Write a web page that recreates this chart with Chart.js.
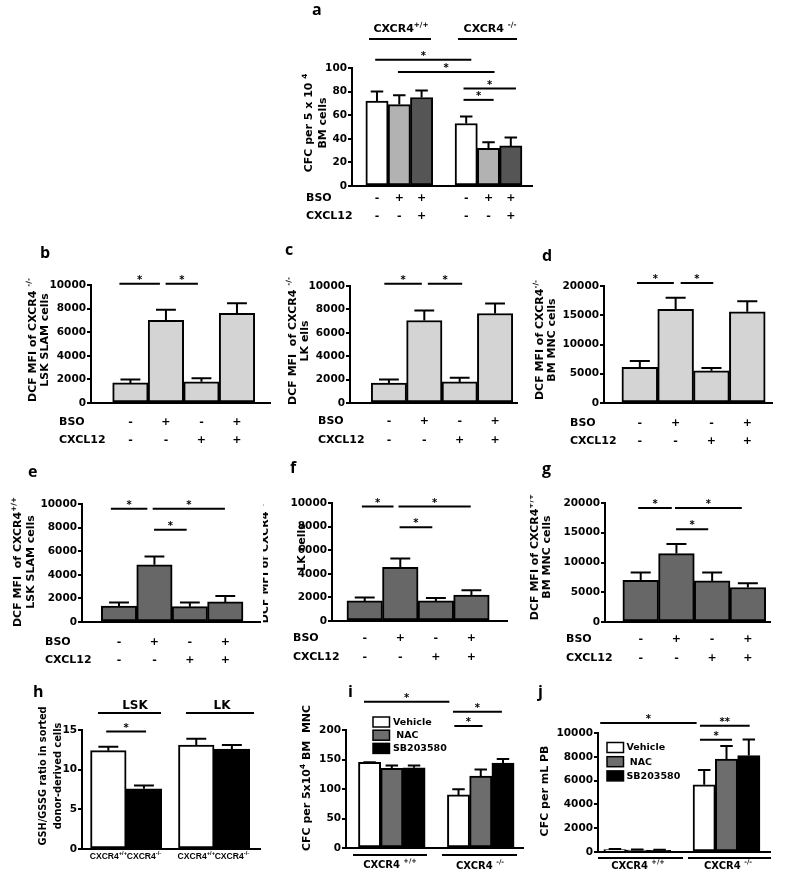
<!DOCTYPE html>
<html>
<head>
<meta charset="utf-8">
<script src="https://cdn.jsdelivr.net/npm/chart.js@4.4.0/dist/chart.umd.min.js"></script>
<style>
  body { margin: 0; background: #fff; width: 787px; height: 878px; position: relative; overflow: hidden; }
  canvas { position: absolute; }
</style>
</head>
<body>
<script>
// ---- data ----
// a: CFC per 5x10^4 BM cells
const aValues = [72, 69, 75, 53, 32, 34];
const aErrors = [80, 77, 81, 59, 37, 41];
const aBSO = ['-', '+', '+', '-', '+', '+'];
const aCXCL12 = ['-', '-', '+', '-', '-', '+'];
const aTicks = [0, 20, 40, 60, 80, 100];
const aSig = [[0.92, 5.23, 107, '*'], [1.94, 6.27, 96.6, '*'], [4.88, 7.23, 82.6, '*'], [4.88, 6.23, 73, '*']];

// b-g: DCF MFI, four conditions each
const bsoRow = ['-', '+', '-', '+'];
const cxcl12Row = ['-', '-', '+', '+'];
const ticks10k = [0, 2000, 4000, 6000, 8000, 10000];
const ticks20k = [0, 5000, 10000, 15000, 20000];

const bValues = [1700, 7000, 1800, 7600];
const bErrors = [2000, 7900, 2100, 8450];
const bSig = [[0.69, 1.83, 10100, '*'], [1.99, 2.90, 10100, '*']];

const cValues = [1700, 7050, 1800, 7650];
const cErrors = [2000, 7900, 2150, 8500];
const cSig = [[0.87, 1.93, 10200, '*'], [2.10, 3.07, 10200, '*']];

const dValues = [6100, 16000, 5500, 15600];
const dErrors = [7200, 18000, 6000, 17400];
const dSig = [[0.92, 1.95, 20500, '*'], [2.14, 3.05, 20500, '*']];

const eValues = [1350, 4850, 1300, 1700];
const eErrors = [1650, 5550, 1650, 2200];
const eSig = [[0.77, 1.80, 9600, '*'], [1.95, 3.99, 9600, '*'], [1.99, 2.91, 7825, '*']];

const fValues = [1700, 4550, 1700, 2200];
const fErrors = [2000, 5300, 1950, 2600];
const fSig = [[0.92, 1.81, 9700, '*'], [1.95, 3.98, 9700, '*'], [1.98, 2.90, 7950, '*']];

const gValues = [7000, 11500, 6900, 5800];
const gErrors = [8300, 13100, 8300, 6500];
const gSig = [[0.93, 1.87, 19150, '*'], [1.96, 3.83, 19150, '*'], [1.99, 2.89, 15600, '*']];

// h: GSH/GSSG ratio
const hGroups = ['LSK', 'LK'];
const hCategories = ['CXCR4^{+/+}', 'CXCR4^{-/-}', 'CXCR4^{+/+}', 'CXCR4^{-/-}'];
const hValues = [12.4, 7.6, 13.1, 12.6];
const hErrors = [12.9, 8.0, 13.9, 13.1];
const hTicks = [0, 5, 10, 15];
const hSig = [[0.94, 2.06, 14.8, '*']];

// i, j: treatments per genotype
const treatments = ['Vehicle', ' NAC', 'SB203580'];
const genotypes = ['CXCR4 ^{+/+}', 'CXCR4 ^{-/-}'];
const iValues = [145, 135, 136, 90, 122, 144];
const iErrors = [145.5, 140, 140, 99.5, 133, 151];
const iTicks = [0, 50, 100, 150, 200];
const iSig = [[0.75, 4.59, 247.8, '*'], [4.75, 6.95, 231, '*'], [4.81, 6.08, 206.8, '*']];

const jValues = [200, 170, 140, 5650, 7800, 8100];
const jErrors = [250, 220, 180, 6900, 8900, 9450];
const jSig = [[0.34, 4.66, 10845, '*'], [4.81, 7.04, 10617, '**'], [4.81, 6.25, 9434, '*']];

// ---- drawing helpers ----
const FAM = '"DejaVu Sans", sans-serif';
const ARIAL = '"Liberation Sans", Arial, sans-serif';
const fnt = (size, fam) => `bold ${size}px ${fam || FAM}`;

const LIGHT = '#d4d4d4', DARK = '#676767', MID = '#6d6d6d';
const triColors = ['#ffffff', MID, '#000000'];

// bar slots along the linear x axis, groups separated by `gap` empty slots
function slots(groups, gap) {
  const out = [];
  let x = 1;
  groups.forEach(n => {
    for (let k = 0; k < n; k++) out.push(x + k);
    x += n + gap;
  });
  return out;
}

// text with ^{...} superscripts
function drawRich(ctx, str, x, y, size, align, fam) {
  const parts = [];
  const re = /\^\{([^}]*)\}/g;
  let last = 0, m;
  while ((m = re.exec(str))) {
    if (m.index > last) parts.push([str.slice(last, m.index), false]);
    parts.push([m[1], true]);
    last = re.lastIndex;
  }
  if (last < str.length) parts.push([str.slice(last), false]);
  let total = 0;
  parts.forEach(([t, s]) => { ctx.font = fnt(s ? size * 0.66 : size, fam); total += ctx.measureText(t).width; });
  let cx = align === 'center' ? x - total / 2 : x;
  ctx.textAlign = 'left';
  ctx.textBaseline = 'middle';
  parts.forEach(([t, s]) => {
    ctx.font = fnt(s ? size * 0.66 : size, fam);
    ctx.fillText(t, cx, s ? y - size * 0.36 : y);
    cx += ctx.measureText(t).width;
  });
}

function extras(p) {
  const ox = p.box[0], oy = p.box[1];
  return {
    id: 'extras',
    afterDatasetsDraw(chart) {
      const ctx = chart.ctx, ys = chart.scales.y;
      ctx.save();
      ctx.strokeStyle = '#000';
      ctx.lineWidth = 2;
      chart.getDatasetMeta(0).data.forEach((bar, i) => {
        const top = ys.getPixelForValue(p.errors[i]);
        const half = bar.width * 0.28;
        ctx.beginPath();
        ctx.moveTo(bar.x, bar.y);
        ctx.lineTo(bar.x, top);
        ctx.moveTo(bar.x - half, top);
        ctx.lineTo(bar.x + half, top);
        ctx.stroke();
      });
      ctx.restore();
    },
    afterDraw(chart) {
      const ctx = chart.ctx, xs = chart.scales.x, ys = chart.scales.y;
      ctx.save();
      ctx.fillStyle = '#000';
      ctx.strokeStyle = '#000';
      ctx.lineWidth = 2;

      // significance bars
      p.sig.forEach(([x1, x2, yv, mark]) => {
        const X1 = xs.getPixelForValue(x1), X2 = xs.getPixelForValue(x2), Y = ys.getPixelForValue(yv);
        ctx.beginPath(); ctx.moveTo(X1, Y); ctx.lineTo(X2, Y); ctx.stroke();
        ctx.font = fnt(10);
        ctx.textAlign = 'center';
        ctx.textBaseline = 'alphabetic';
        ctx.fillText(mark, (X1 + X2) / 2, Y - 1);
      });

      // BSO / CXCL12 table
      if (p.table) {
        p.table.rows.forEach(([name, signs, y]) => {
          ctx.font = fnt(11);
          ctx.textBaseline = 'middle';
          ctx.textAlign = 'left';
          ctx.fillText(name, p.table.x - ox, y - oy);
          ctx.textAlign = 'center';
          signs.forEach((s, i) => ctx.fillText(s, xs.getPixelForValue(p.pos[i]), y - oy));
        });
      }

      // labels under each bar (panel h)
      if (p.cats) {
        p.cats.labels.forEach((t, i) =>
          drawRich(ctx, t, xs.getPixelForValue(p.pos[i]), p.cats.y - oy, p.cats.size, 'center', ARIAL));
      }

      // group headers / group labels with rules
      (p.heads || []).forEach(h => {
        drawRich(ctx, h.text, h.cx - ox, h.ty - oy, h.size, 'center');
        ctx.lineWidth = 2;
        ctx.beginPath(); ctx.moveTo(h.x1 - ox, h.ly - oy); ctx.lineTo(h.x2 - ox, h.ly - oy); ctx.stroke();
      });

      // legend (panels i, j)
      if (p.legend) {
        const L = p.legend;
        L.labels.forEach((lab, k) => {
          const y = L.y + k * L.dy - oy, x = L.x - ox;
          ctx.fillStyle = L.colors[k];
          ctx.fillRect(x, y, L.w, L.h);
          ctx.lineWidth = 1.5;
          ctx.strokeRect(x, y, L.w, L.h);
          ctx.fillStyle = '#000';
          ctx.font = fnt(9.5);
          ctx.textAlign = 'left';
          ctx.textBaseline = 'middle';
          ctx.fillText(lab, x + L.tx, y + L.h / 2 + 0.5);
        });
      }

      // rotated y-axis title
      const t = p.title;
      t.lines.forEach((line, k) => {
        ctx.save();
        if (t.clip && t.clip[k] != null) {
          ctx.beginPath(); ctx.rect(t.clip[k] - ox, 0, 1000, 1000); ctx.clip();
        }
        const cy = Array.isArray(t.cy) ? t.cy[k] : t.cy;
        ctx.translate(t.xs[k] - ox, cy - oy);
        ctx.rotate(-Math.PI / 2);
        drawRich(ctx, line, 0, 0, t.size || 11, 'center');
        ctx.restore();
      });

      // panel letter
      ctx.font = 'bold 16px "Open Sans", sans-serif';
      ctx.textAlign = 'left';
      ctx.textBaseline = 'alphabetic';
      ctx.fillText(p.letter, p.letterAt[0] - ox, p.letterAt[1] - oy);
      ctx.restore();
    }
  };
}

function makePanel(p) {
  const [bx, by, bw, bh] = p.box;
  const [l, t, r, b] = p.area;
  const cv = document.createElement('canvas');
  cv.width = bw; cv.height = bh;
  cv.style.left = bx + 'px'; cv.style.top = by + 'px';
  cv.style.width = bw + 'px'; cv.style.height = bh + 'px';
  document.body.appendChild(cv);

  new Chart(cv, {
    type: 'bar',
    data: {
      labels: p.pos,
      datasets: [{
        data: p.values,
        backgroundColor: p.colors,
        borderColor: '#000',
        borderWidth: 2,
        borderSkipped: false,
        barPercentage: 1,
        categoryPercentage: 1
      }]
    },
    options: {
      responsive: false,
      animation: false,
      events: [],
      layout: { padding: { left: 0, top: t - by, right: bx + bw - r, bottom: 0 } },
      plugins: { legend: { display: false }, tooltip: { enabled: false } },
      scales: {
        x: {
          type: 'linear',
          offset: false,
          min: p.x[0], max: p.x[1],
          afterBuildTicks: s => { s.ticks = p.pos.map(v => ({ value: v })); },
          ticks: { display: false },
          grid: { display: false, offset: false },
          border: { display: true, color: '#000', width: 2 },
          afterFit: s => { s.height = by + bh - b; }
        },
        y: {
          min: p.yTicks[0], max: p.yTicks[p.yTicks.length - 1],
          afterBuildTicks: s => { s.ticks = p.yTicks.map(v => ({ value: v })); },
          ticks: { color: '#000', padding: 1, font: { family: FAM, size: 10.5, weight: 'bold' }, callback: v => String(v) },
          grid: { display: true, drawOnChartArea: false, drawTicks: true, tickLength: 4, color: '#000', lineWidth: 2 },
          border: { display: true, color: '#000', width: 2 },
          afterFit: s => { s.width = l - bx; }
        }
      }
    },
    plugins: [extras(p)]
  });
}

const aColors = ['#ffffff', '#b2b2b2', '#555555', '#ffffff', '#b2b2b2', '#555555'];
const four = c => [c, c, c, c];
const bsoTable = (x, y1, y2) => ({ x, rows: [['BSO', bsoRow, y1], ['CXCL12', cxcl12Row, y2]] });

const panels = [
  { letter: 'a', letterAt: [312, 15], box: [290, 0, 250, 225], area: [352, 68, 532, 186],
    x: [-0.12, 7.95], pos: slots([3, 3], 1), values: aValues, errors: aErrors, yTicks: aTicks,
    colors: aColors, sig: aSig,
    title: { lines: ['CFC per 5 x 10 ^{4}', 'BM cells'], xs: [309, 323], cy: 123 },
    table: { x: 306, rows: [['BSO', aBSO, 198], ['CXCL12', aCXCL12, 216]] },
    heads: [
      { text: 'CXCR4^{+/+}', cx: 401, ty: 29, x1: 369, x2: 431, ly: 39, size: 11 },
      { text: 'CXCR4 ^{-/-}', cx: 490, ty: 29, x1: 458, x2: 517, ly: 39, size: 11 }
    ] },
  { letter: 'b', letterAt: [40, 258], box: [0, 225, 272, 235], area: [91, 285, 270, 403],
    x: [-0.11, 4.93], pos: slots([4], 0), values: bValues, errors: bErrors, yTicks: ticks10k,
    colors: four(LIGHT), sig: bSig,
    title: { lines: ['DCF MFI of CXCR4 ^{-/-}', 'LSK SLAM cells'], xs: [33, 45], cy: 340 },
    table: bsoTable(59, 422, 440) },
  { letter: 'c', letterAt: [285, 255], box: [272, 225, 258, 235], area: [350, 286, 517, 403],
    x: [-0.10, 4.62], pos: slots([4], 0), values: cValues, errors: cErrors, yTicks: ticks10k,
    colors: four(LIGHT), sig: cSig,
    title: { lines: ['DCF MFI  of CXCR4 ^{-/-}', 'LK ells'], xs: [293, 305], cy: 341 },
    table: bsoTable(318, 421, 440) },
  { letter: 'd', letterAt: [542, 261], box: [530, 225, 257, 235], area: [604, 286, 772, 403],
    x: [0.0, 4.69], pos: slots([4], 0), values: dValues, errors: dErrors, yTicks: ticks20k,
    colors: four(LIGHT), sig: dSig,
    title: { lines: ['DCF MFI of CXCR4^{-/-}', 'BM MNC cells'], xs: [540, 552], cy: 340 },
    table: bsoTable(570, 423, 441) },
  { letter: 'e', letterAt: [28, 477], box: [0, 460, 262, 220], area: [82, 504, 260, 622],
    x: [-0.045, 4.98], pos: slots([4], 0), values: eValues, errors: eErrors, yTicks: ticks10k,
    colors: four(DARK), sig: eSig,
    title: { lines: ['DCF MFI  of CXCR4^{+/+}', 'LSK SLAM cells'], xs: [18, 31], cy: 562 },
    table: bsoTable(45, 642, 660) },
  { letter: 'f', letterAt: [290, 473], box: [260, 460, 270, 220], area: [332, 503, 507, 621],
    x: [0.08, 5.0], pos: slots([4], 0), values: fValues, errors: fErrors, yTicks: ticks10k,
    colors: four(DARK), sig: fSig,
    title: { lines: ['DCF MFI of CXCR4^{+/+}', 'LK cells'], xs: [265, 302], cy: [560, 547], clip: [263, null] },
    table: bsoTable(293, 638, 657) },
  { letter: 'g', letterAt: [542, 474], box: [530, 460, 257, 220], area: [605, 503, 770, 622],
    x: [0.0, 4.62], pos: slots([4], 0), values: gValues, errors: gErrors, yTicks: ticks20k,
    colors: four(DARK), sig: gSig,
    title: { lines: ['DCF MFI of CXCR4^{+/+}', 'BM MNC cells'], xs: [535, 547], cy: 557 },
    table: bsoTable(566, 639, 658) },
  { letter: 'h', letterAt: [33, 697], box: [0, 680, 270, 198], area: [82, 730, 260, 849],
    x: [0.26, 5.26], pos: slots([2, 2], 0.47), values: hValues, errors: hErrors, yTicks: hTicks,
    colors: ['#ffffff', '#000000', '#ffffff', '#000000'], sig: hSig,
    title: { lines: ['GSH/GSSG ratio in sorted', 'donor-derived cells'], xs: [43, 58], cy: 776, size: 9.8 },
    cats: { labels: hCategories, y: 857, size: 8.6 },
    heads: [
      { text: hGroups[0], cx: 135, ty: 706, x1: 98, x2: 161, ly: 713, size: 12 },
      { text: hGroups[1], cx: 222, ty: 706, x1: 186, x2: 254, ly: 713, size: 12 }
    ] },
  { letter: 'i', letterAt: [348, 697], box: [270, 680, 260, 198], area: [346, 730, 523, 848],
    x: [-0.06, 7.9], pos: slots([3, 3], 1), values: iValues, errors: iErrors, yTicks: iTicks,
    colors: triColors.concat(triColors), sig: iSig,
    title: { lines: ['CFC per 5x10^{4} BM  MNC'], xs: [307], cy: 778 },
    legend: { labels: treatments, colors: triColors, x: 373, y: 717, dy: 13.2, w: 16.5, h: 10, tx: 20 },
    heads: [
      { text: genotypes[0], cx: 390, ty: 865, x1: 353, x2: 427, ly: 855, size: 10 },
      { text: genotypes[1], cx: 480, ty: 866, x1: 442, x2: 517, ly: 855, size: 10 }
    ] },
  { letter: 'j', letterAt: [538, 697], box: [530, 680, 257, 198], area: [598, 733, 770, 852],
    x: [0.24, 7.95], pos: slots([3, 3], 1), values: jValues, errors: jErrors, yTicks: ticks10k,
    colors: triColors.concat(triColors), sig: jSig,
    title: { lines: ['CFC per mL PB'], xs: [545], cy: 791 },
    legend: { labels: treatments, colors: triColors, x: 607, y: 742.5, dy: 14.2, w: 16.5, h: 10, tx: 19.5 },
    heads: [
      { text: genotypes[0], cx: 638, ty: 866, x1: 598, x2: 683, ly: 858, size: 10 },
      { text: genotypes[1], cx: 728, ty: 866, x1: 688, x2: 771, ly: 858, size: 10 }
    ] }
];

panels.forEach(makePanel);
</script>
</body>
</html>
